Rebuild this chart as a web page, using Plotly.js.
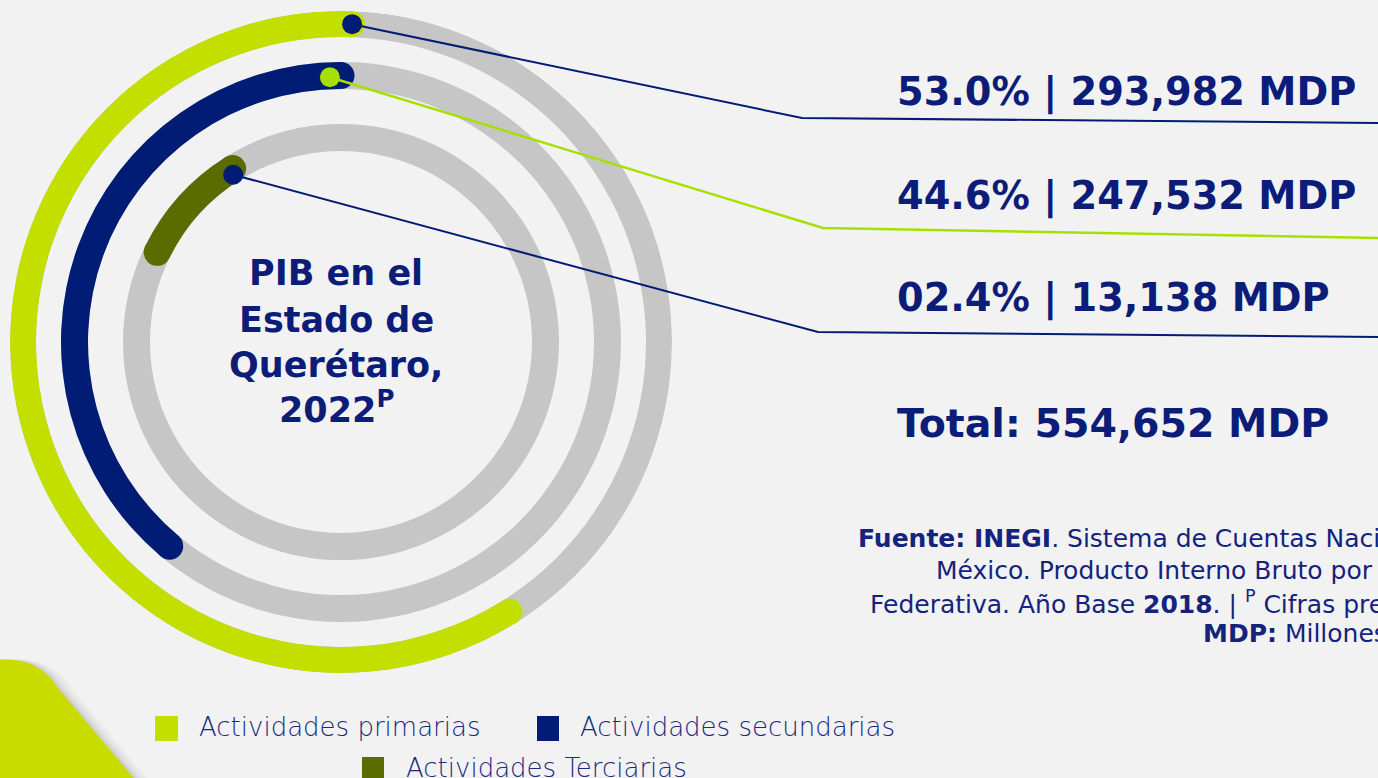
<!DOCTYPE html>
<html>
<head>
<meta charset="utf-8">
<script src="https://cdn.plot.ly/plotly-3.0.1.min.js"></script>
<style>
  html, body { margin: 0; padding: 0; background: #f2f2f2; overflow: hidden; }
  #chart { width: 1378px; height: 778px; }
</style>
</head>
<body>
<div id="chart"></div>
<script>
// ---------------- DATA ----------------
const categories = ['Actividades primarias', 'Actividades secundarias', 'Actividades Terciarias'];
const sharesPct = [53.0, 44.6, 2.4];
const valuesMDP = [293982, 247532, 13138];
const totalMDP = 554652;
// Arc extents as drawn in the picture (degrees, 0 = top, counter-clockwise)
const arcFrom = [-2, 0, 32];
const arcTo = [212, 140, 64];
const titleLines = ['PIB en el', 'Estado de', 'Querétaro,', '2022<sup>P</sup>'];
const sourceLines = [
  '<b>Fuente: INEGI</b>. Sistema de Cuentas Nacionales de',
  'México. Producto Interno Bruto por Entidad',
  'Federativa. Año Base <b>2018</b>. | <sup>P</sup> Cifras preliminares.',
  '<b>MDP:</b> Millones de pesos.'
];

// ---------------- STYLE / LAYOUT CONSTANTS ----------------
const W = 1378, H = 778;
const CX = 341, CY = 342, R = 331;          // polar centre and radius (px)
const ringInner = [305, 253, 191];
const ringWidth = [26, 27, 27];
const ringColors = ['#c3df00', '#001c74', '#5a6b00'];
const grayRing = '#c6c6c6';
const NAVY = '#0b1d78';
const GREEN = '#a6e000';
const dotColors = ['#001c74', GREEN, '#001c74'];
const dotOffset = [0, 2.4, 0.8];
const dotRadius = [318, 265, 199];
const lineColors = ['#001c74', GREEN, '#001c74'];
const lineWidths = [2, 2.5, 2];
const elbows = [[802, 118], [823, 228], [818, 332]];
const lineEnds = [[1378, 123], [1378, 238], [1378, 337]];
const labelPos = [[895, 105], [895, 209], [895, 311]];

const px = x => x / W;
const py = y => 1 - y / H;

const ringMid = ringInner.map((v, i) => v + ringWidth[i] / 2);
const arcCenter = arcFrom.map((a, i) => (a + arcTo[i]) / 2);
const arcSpan = arcFrom.map((a, i) => arcTo[i] - a);

const traces = [];
// background gray rings
traces.push({
  type: 'barpolar',
  r: ringWidth, base: ringInner,
  theta: [0, 0, 0], width: [360, 360, 360],
  marker: { color: grayRing, opacity: 1, line: { width: 0 } },
  hoverinfo: 'skip', showlegend: false
});
// coloured arcs
traces.push({
  type: 'barpolar',
  r: ringWidth, base: ringInner,
  theta: arcCenter, width: arcSpan,
  name: 'Actividades',
  text: categories,
  marker: { color: ringColors, opacity: 1, line: { width: 0 } },
  hovertemplate: '%{text}<extra></extra>',
  showlegend: false
});
// round caps
traces.push({
  type: 'scatterpolar', mode: 'markers',
  r: ringMid.concat(ringMid),
  theta: arcFrom.concat(arcTo),
  marker: { size: ringWidth.concat(ringWidth), color: ringColors.concat(ringColors), opacity: 1, line: { width: 0 } },
  hoverinfo: 'skip', showlegend: false
});

const shapes = [];
// decorative lime blob with soft shadow (bottom left)
const blob = (dx) => `M ${px(-5 + dx)},${py(660)} C ${px(22 + dx)},${py(657)} ${px(44 + dx)},${py(665)} ${px(58 + dx)},${py(688)} L ${px(137 + dx)},${py(782)} L ${px(-5 + dx)},${py(782)} Z`;
[[14, 0.025], [10, 0.03], [6, 0.04], [3, 0.05]].forEach(([dx, op]) => {
  shapes.push({ type: 'path', xref: 'paper', yref: 'paper', path: blob(dx), fillcolor: `rgba(0,0,0,${op})`, line: { width: 0 }, layer: 'below' });
});
shapes.push({ type: 'path', xref: 'paper', yref: 'paper', path: blob(0), fillcolor: '#c8dc00', line: { width: 0 }, layer: 'below' });

// connector lines + dots (dots drawn after the lines so they sit on top)
const dotShapes = [];
for (let i = 0; i < 3; i++) {
  const th = (arcFrom[i] + dotOffset[i]) * Math.PI / 180;
  const x0 = CX - dotRadius[i] * Math.sin(th);
  const y0 = CY - dotRadius[i] * Math.cos(th);
  shapes.push({
    type: 'path', xref: 'paper', yref: 'paper', layer: 'above',
    path: `M ${px(x0)},${py(y0)} L ${px(elbows[i][0])},${py(elbows[i][1])} L ${px(lineEnds[i][0])},${py(lineEnds[i][1])}`,
    line: { color: lineColors[i], width: lineWidths[i] }
  });
  dotShapes.push({
    type: 'circle', xref: 'paper', yref: 'paper', layer: 'above',
    x0: px(x0 - 10), x1: px(x0 + 10), y0: py(y0 + 10), y1: py(y0 - 10),
    fillcolor: dotColors[i], line: { width: 0 }
  });
}
dotShapes.forEach(s => shapes.push(s));

// legend squares
const legendSq = [[155, 716, 178, 741], [537, 716, 559, 741], [362, 757, 384, 782]];
const legendTxt = [[197, 727], [578, 727], [404, 768]];
legendSq.forEach((s, i) => {
  shapes.push({ type: 'rect', xref: 'paper', yref: 'paper', x0: px(s[0]), x1: px(s[2]), y0: py(s[1]), y1: py(s[3]), fillcolor: ringColors[i], line: { width: 0 } });
});

const annotations = [];
function ann(text, x, baseline, size, opts = {}) {
  const capMid = baseline - 0.345 * size;
  annotations.push(Object.assign({
    text, x: px(x), y: py(capMid), xref: 'paper', yref: 'paper',
    xanchor: 'left', yanchor: 'middle', showarrow: false,
    font: { family: 'DejaVu Sans', size, color: NAVY }
  }, opts));
}

const fmt = n => n.toLocaleString('en-US');
for (let i = 0; i < 3; i++) {
  const pct = sharesPct[i].toFixed(1).padStart(4, '0');
  ann(`<b>${pct}% | ${fmt(valuesMDP[i])} MDP</b>`, labelPos[i][0], labelPos[i][1], 38.3);
}
ann(`<b>Total: ${fmt(totalMDP)} MDP</b>`, 895, 437, 39.5);

// centre title
const titleBase = [285, 332, 377, 419];
titleLines.forEach((t, i) => {
  ann(`<b>${t}</b>`, 336, titleBase[i], 35, { xanchor: 'center' });
});

// source note
const srcX = [856, 934, 868, 1201];
const srcBase = [547, 579, 611, 642];
sourceLines.forEach((t, i) => ann(t, srcX[i], srcBase[i], 25, { font: { family: 'DejaVu Sans', size: 25, color: '#14237c' } }));

// legend labels
categories.forEach((c, i) => {
  annotations.push({
    text: c, x: px(legendTxt[i][0]), y: py(legendTxt[i][1]), xref: 'paper', yref: 'paper',
    xanchor: 'left', yanchor: 'middle', showarrow: false,
    font: { family: 'DejaVu Sans', size: 26, weight: 200, color: '#1a2a80' }
  });
});

const layout = {
  width: W, height: H,
  margin: { l: 0, r: 0, t: 0, b: 0, pad: 0 },
  paper_bgcolor: '#f2f2f2',
  plot_bgcolor: '#f2f2f2',
  showlegend: false,
  polar: {
    domain: { x: [px(CX - R), px(CX + R)], y: [py(CY + R), py(CY - R)] },
    bgcolor: 'rgba(0,0,0,0)',
    barmode: 'overlay',
    hole: 0,
    radialaxis: { range: [0, R], visible: false, showgrid: false, showline: false, ticks: '' },
    angularaxis: { rotation: 90, direction: 'counterclockwise', visible: false, showgrid: false, showline: false, ticks: '' }
  },
  shapes, annotations
};

Plotly.newPlot('chart', traces, layout, { displayModeBar: false, staticPlot: true });
</script>
</body>
</html>
